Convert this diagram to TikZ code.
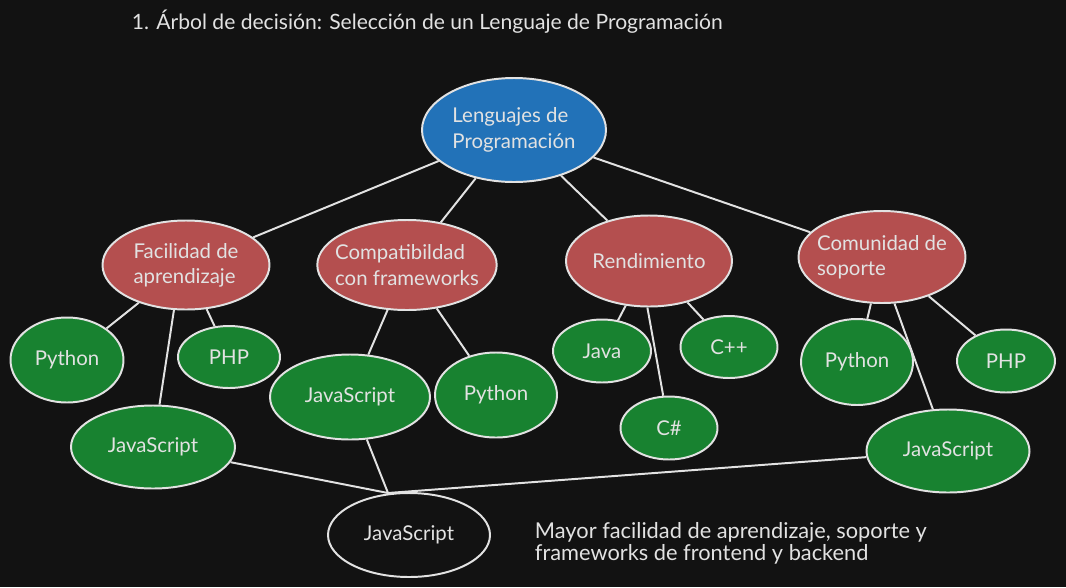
\documentclass[tikz,border=0pt]{standalone}
\usepackage{fontspec}
\setmainfont{Lato}
\usetikzlibrary{shapes.geometric, positioning}

\definecolor{bgdark}{HTML}{121212}
\definecolor{rootblue}{HTML}{2272B8}
\definecolor{critred}{HTML}{B44F4F}
\definecolor{langgreen}{HTML}{188230}
\definecolor{inkgray}{HTML}{E2E2E2}
\newcommand\pxu{0.025cm}

\begin{document}
\begin{tikzpicture}[
  x=0.025cm, y=-0.025cm,
  bubble/.style 2 args={ellipse, draw=inkgray, line width=1.4pt, inner xsep=-6pt, inner ysep=-2pt, align=left,
    text=inkgray, font=\fontsize{14.5}{18}\selectfont, minimum width=#1*\pxu, minimum height=#2*\pxu},
  root/.style={fill=rootblue},
  crit/.style={fill=critred},
  lang/.style={fill=langgreen},
  link/.style={draw=inkgray, line width=1.4pt},
  note/.style={text=inkgray, font=\fontsize{15.5}{16}\selectfont, align=left}
]
  \fill[bgdark] (0,0) rectangle (1066,587);
  \useasboundingbox (0,0) rectangle (1066,587);

  \node[note, anchor=west, font=\fontsize{15}{18}\selectfont] (title) at (127,22) {1. Árbol de decisión: Selección de un Lenguaje de Programación};

  \node[bubble={184}{104}, root] (lenguajes) at (514,130) {Lenguajes de\\Programación};

  \node[bubble={167}{89}, crit] (facilidad) at (186,265) {Facilidad de\\aprendizaje};
  \node[bubble={169}{90}, crit] (compat) at (407,265) {Compatibildad\\con frameworks};
  \node[bubble={166}{91}, crit] (rend) at (649,261) {Rendimiento};
  \node[bubble={167}{92}, crit] (comunidad) at (882,257) {Comunidad de\\soporte};

  \node[bubble={113}{85}, lang] (pyA) at (67,360) {Python};
  \node[bubble={102}{62}, lang] (phpA) at (229,357) {PHP};
  \node[bubble={164}{83}, lang] (jsA) at (153,447) {JavaScript};
  \node[bubble={160}{85}, lang] (jsB) at (350,397) {JavaScript};
  \node[bubble={122}{85}, lang] (pyB) at (496,395) {Python};
  \node[bubble={98}{63}, lang] (java) at (602,351) {Java};
  \node[bubble={97}{62}, lang] (cpp) at (729,347) {C++};
  \node[bubble={97}{63}, lang] (csharp) at (669,428) {C\#};
  \node[bubble={112}{86}, lang] (pyC) at (857,362) {Python};
  \node[bubble={98}{63}, lang] (phpC) at (1006,361) {PHP};
  \node[bubble={163}{83}, lang] (jsC) at (948,451) {JavaScript};

  \node[bubble={162}{84}, fill=bgdark] (final) at (409,535) {JavaScript};
  \coordinate (meet) at (388,493);

  \node[note, anchor=north west] (razon) at (530,517) {Mayor facilidad de aprendizaje, soporte y\\frameworks de frontend y backend};

  \draw[link] (lenguajes) -- (facilidad);
  \draw[link] (lenguajes) -- (compat);
  \draw[link] (lenguajes) -- (rend);
  \draw[link] (lenguajes) -- (comunidad);

  \draw[link] (facilidad) -- (pyA);
  \draw[link] (facilidad) -- (phpA);
  \draw[link] (facilidad.255) -- (jsA);
  \draw[link] (compat) -- (jsB);
  \draw[link] (compat) -- (pyB);
  \draw[link] (rend) -- (java);
  \draw[link] (rend.268) -- (csharp);
  \draw[link] (rend) -- (cpp);
  \draw[link] (comunidad) -- (pyC);
  \draw[link] (comunidad.285) -- (jsC);
  \draw[link] (comunidad) -- (phpC);

  \draw[link] (jsA) -- (meet);
  \draw[link] (jsB) -- (meet);
  \draw[link] (jsC) -- (meet);
\end{tikzpicture}
\end{document}
